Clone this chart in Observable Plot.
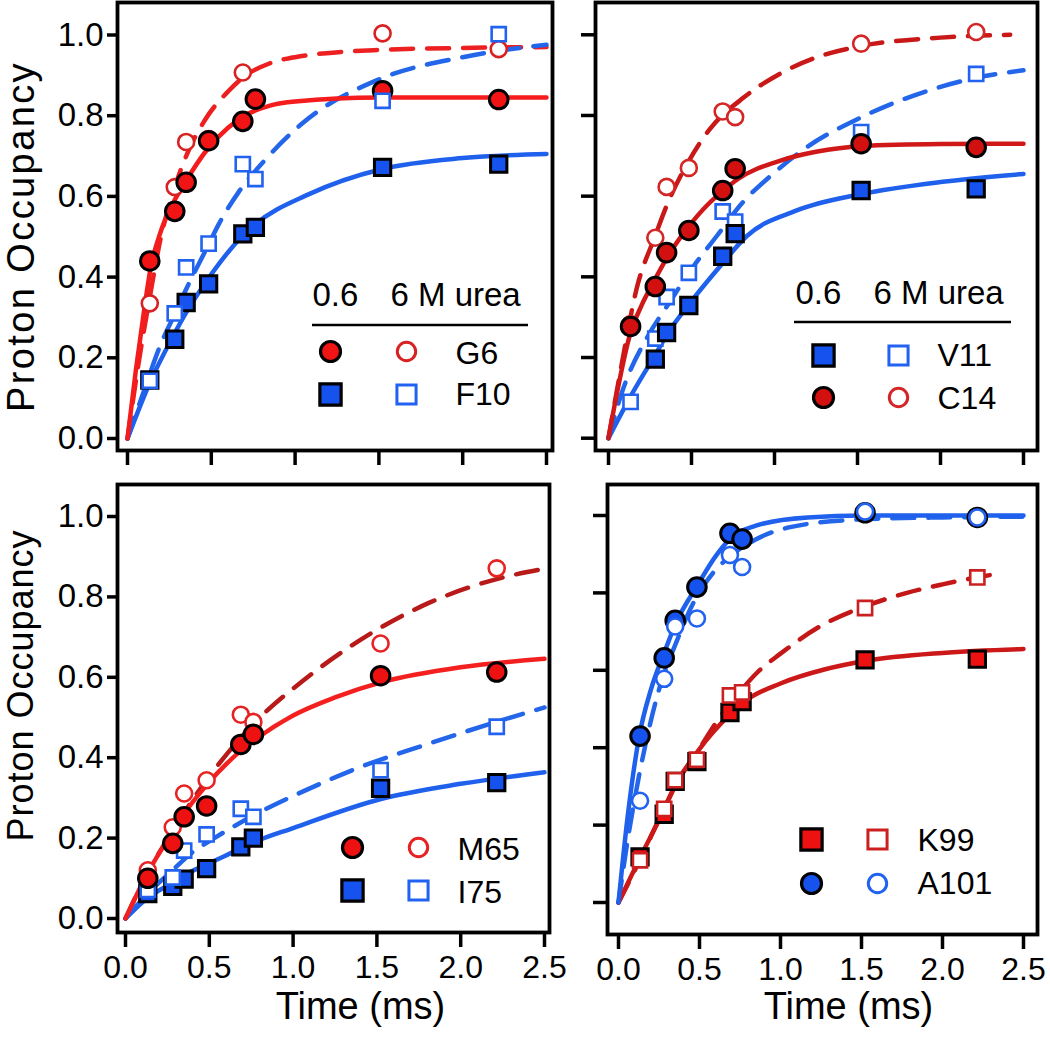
<!DOCTYPE html>
<html>
<head>
<meta charset="utf-8">
<script src="https://cdn.jsdelivr.net/npm/d3@7"></script>
<script src="https://cdn.jsdelivr.net/npm/@observablehq/plot@0.6"></script>
<style>
  html, body { margin: 0; padding: 0; background: #ffffff; }
  #chart { position: relative; width: 1050px; height: 1037px; background: #ffffff; }
  #chart svg { position: absolute; }
</style>
</head>
<body>
<div id="chart"></div>
<script>
// ---------------- DATA ----------------
const times = [0.133, 0.282, 0.35, 0.484, 0.688, 0.763, 1.522, 2.215];
const xTicks = [0, 0.5, 1.0, 1.5, 2.0, 2.5];
const yTicks = [0, 0.2, 0.4, 0.6, 0.8, 1.0];
const headerLabels = ["0.6", "6 M urea"];
const yTitle = "Proton Occupancy";
const xTitle = "Time (ms)";

// Panel A (top left): G6, F10
const labelsA = ["G6", "F10"];
const g6Low   = [0.44, 0.563, 0.635, 0.738, 0.786, 0.841, 0.862, 0.84];
const g6High  = [0.335, 0.623, 0.735, 0.742, 0.907, 0.842, 1.004, 0.965];
const f10Low  = [0.145, 0.246, 0.337, 0.383, 0.507, 0.523, 0.672, 0.68];
const f10High = [0.143, 0.31, 0.424, 0.483, 0.68, 0.643, 0.837, 1.002];
const fitG6Low   = [[0,0],[0.05,0.17],[0.1,0.32],[0.137,0.42],[0.2,0.515],[0.274,0.585],[0.344,0.635],[0.473,0.715],[0.6,0.77],[0.7,0.8],[0.85,0.825],[1.0,0.835],[1.5,0.845],[2.0,0.845],[2.5,0.845]];
const fitG6High  = [[0,0],[0.06,0.17],[0.137,0.36],[0.2,0.5],[0.28,0.62],[0.35,0.7],[0.463,0.79],[0.6,0.86],[0.69,0.895],[0.85,0.93],[1.0,0.945],[1.5,0.963],[2.0,0.968],[2.5,0.97]];
const fitF10Low  = [[0,0],[0.135,0.14],[0.274,0.255],[0.354,0.315],[0.463,0.385],[0.682,0.5],[0.76,0.53],[1.08,0.605],[1.52,0.668],[2.0,0.695],[2.5,0.705]];
const fitF10High = [[0,0],[0.1,0.12],[0.195,0.23],[0.284,0.31],[0.35,0.37],[0.483,0.48],[0.543,0.53],[0.662,0.61],[0.82,0.69],[1.04,0.78],[1.5,0.89],[2.0,0.945],[2.5,0.976]];

// Panel B (top right): V11, C14
const labelsB = ["V11", "C14"];
const v11Low  = [null, 0.196, 0.262, 0.329, 0.451, 0.507, 0.614, 0.618];
const v11High = [0.09, 0.247, 0.35, 0.41, 0.562, 0.537, 0.759, 0.903];
const c14Low  = [0.277, 0.376, 0.46, 0.515, 0.614, 0.668, 0.73, 0.721];
const c14High = [0.283, 0.497, 0.623, 0.67, 0.81, 0.796, 0.978, 1.007];
const fitC14Low  = [[0,0],[0.05,0.11],[0.128,0.255],[0.2,0.33],[0.269,0.385],[0.349,0.445],[0.474,0.52],[0.6,0.58],[0.681,0.61],[0.771,0.64],[1.05,0.69],[1.25,0.71],[1.52,0.724],[2.0,0.729],[2.5,0.73]];
const fitC14High = [[0,0],[0.078,0.18],[0.169,0.37],[0.28,0.5],[0.349,0.575],[0.488,0.69],[0.608,0.765],[0.816,0.845],[1.04,0.905],[1.26,0.945],[1.52,0.972],[2.0,0.993],[2.42,1.0]];
const fitV11Low  = [[0,0],[0.128,0.1],[0.279,0.205],[0.36,0.262],[0.5,0.34],[0.68,0.43],[0.83,0.5],[1.13,0.564],[1.52,0.605],[2.0,0.635],[2.5,0.655]];
const fitV11High = [[0,0],[0.078,0.11],[0.247,0.26],[0.349,0.325],[0.51,0.425],[0.65,0.5],[0.81,0.585],[0.99,0.655],[1.19,0.72],[1.52,0.795],[1.96,0.866],[2.21,0.893],[2.5,0.912]];

// Panel C (bottom left): M65, I75
const labelsC = ["M65", "I75"];
const m65Low  = [0.10, 0.187, 0.253, 0.28, 0.433, 0.458, 0.604, 0.613];
const m65High = [0.12, 0.227, 0.311, 0.344, 0.507, 0.489, 0.684, 0.871];
const i75Low  = [0.062, 0.08, 0.098, 0.124, 0.178, 0.2, 0.324, 0.338];
const i75High = [0.071, 0.102, 0.169, 0.209, 0.273, 0.253, 0.369, 0.477];
const fitM65Low  = [[0,0],[0.128,0.11],[0.288,0.22],[0.352,0.262],[0.48,0.33],[0.687,0.417],[0.764,0.442],[1.0,0.505],[1.25,0.55],[1.53,0.588],[2.0,0.625],[2.5,0.646]];
const fitM65High = [[0,0],[0.128,0.11],[0.284,0.22],[0.4,0.295],[0.53,0.37],[0.79,0.495],[1.07,0.595],[1.39,0.69],[1.81,0.785],[2.22,0.845],[2.5,0.87]];
const fitI75Low  = [[0,0],[0.128,0.05],[0.284,0.09],[0.352,0.108],[0.486,0.135],[0.693,0.175],[0.768,0.19],[1.0,0.225],[1.53,0.298],[2.0,0.335],[2.5,0.364]];
const fitI75High = [[0,0],[0.128,0.06],[0.28,0.12],[0.4,0.165],[0.53,0.2],[0.79,0.262],[1.07,0.318],[1.39,0.375],[1.81,0.435],[2.22,0.49],[2.5,0.525]];

// Panel D (bottom right): K99, A101
const labelsD = ["K99", "A101"];
const k99Low   = [0.118, 0.228, 0.313, 0.364, 0.491, 0.519, 0.627, 0.629];
const k99High  = [0.109, 0.242, 0.316, 0.369, 0.535, 0.543, 0.761, 0.84];
const a101Low  = [0.43, 0.632, 0.729, 0.815, 0.954, 0.939, 1.007, 0.995];
const a101High = [0.263, 0.578, 0.713, 0.734, 0.898, 0.867, 1.01, 0.995];
const fitA101Low  = [[0,0],[0.056,0.22],[0.128,0.43],[0.2,0.55],[0.282,0.645],[0.352,0.72],[0.488,0.82],[0.6,0.895],[0.691,0.94],[0.858,0.975],[1.167,0.995],[1.52,1.0],[2.5,1.0]];
const fitA101High = [[0,0],[0.06,0.17],[0.128,0.33],[0.25,0.55],[0.364,0.68],[0.457,0.77],[0.59,0.855],[0.69,0.895],[0.838,0.936],[1.06,0.97],[1.5,0.99],[2.0,0.995],[2.5,0.997]];
const fitK99Low   = [[0,0],[0.138,0.12],[0.272,0.232],[0.354,0.305],[0.488,0.39],[0.693,0.488],[0.776,0.519],[1.0,0.566],[1.27,0.602],[1.52,0.624],[2.0,0.645],[2.5,0.655]];
const fitK99High  = [[0,0],[0.138,0.115],[0.272,0.235],[0.354,0.305],[0.488,0.39],[0.611,0.47],[0.76,0.55],[0.858,0.595],[1.0,0.643],[1.25,0.715],[1.52,0.765],[1.78,0.8],[2.0,0.822],[2.21,0.84],[2.35,0.85]];

// ---------------- HELPERS ----------------
const FONT = "'Liberation Sans', Arial, Helvetica, sans-serif";
const pts = (vals) => times.map((t, i) => ({t, v: vals[i]})).filter(d => d.v != null);
const fitRows = (pairs) => pairs.map(([t, v]) => ({t, v}));

function dataDot(vals, s) {
  const filled = s.filled;
  const isSq = s.symbol === "square";
  return Plot.dot(pts(vals), {
    x: "t", y: "v", symbol: s.symbol,
    r: filled ? (isSq ? 9.2 : 9.3) : 8,
    fill: filled ? s.color : "white",
    stroke: filled ? "black" : s.color,
    strokeWidth: filled ? 3 : 2.6
  });
}
function fitLine(pairs, color, dashed) {
  return Plot.line(fitRows(pairs), {
    x: "t", y: "v", stroke: color, strokeWidth: 4.5,
    strokeDasharray: dashed ? "22,14" : undefined,
    curve: "monotone-x"
  });
}
function legendMarks(lg) {
  const marks = [];
  lg.rows.forEach((row, i) => {
    const my = lg.markerDy[i], ty = lg.textDy[i];
    const isSq = row.symbol === "square";
    marks.push(Plot.dot([row.label], {frameAnchor: "top-left", dx: lg.filledDx, dy: my, symbol: row.symbol,
      r: isSq ? 12 : 10, fill: row.fill, stroke: "black", strokeWidth: 3.2}));
    marks.push(Plot.dot([row.label], {frameAnchor: "top-left", dx: lg.openDx, dy: my, symbol: row.symbol,
      r: isSq ? 10.8 : 9.2, fill: "white", stroke: row.open, strokeWidth: 3}));
    marks.push(Plot.text([row.label], {frameAnchor: "top-left", dx: lg.textDx, dy: ty, text: d => d,
      textAnchor: "start", lineAnchor: "bottom", fontSize: 32, fill: "black"}));
  });
  if (lg.header) {
    marks.push(Plot.text([headerLabels[0]], {frameAnchor: "top-left", dx: lg.header.dx0, dy: lg.header.dy, text: d => d,
      textAnchor: "start", lineAnchor: "bottom", fontSize: 33, fill: "black"}));
    marks.push(Plot.text([headerLabels[1]], {frameAnchor: "top-left", dx: lg.header.dx1, dy: lg.header.dy, text: d => d,
      textAnchor: "start", lineAnchor: "bottom", fontSize: 33, fill: "black"}));
    const r = lg.header.rule;
    marks.push(() => d3.create("svg:line").attr("x1", r[0]).attr("x2", r[1]).attr("y1", r[2]).attr("y2", r[2])
      .attr("stroke", "black").attr("stroke-width", 2.6).node());
  }
  return marks;
}

function makePanel(cfg) {
  const [fl, ft, fr, fb] = cfg.frame;
  const marks = [];
  cfg.fits.forEach(f => marks.push(fitLine(f.data, f.color, f.dashed)));
  cfg.series.forEach(s => marks.push(dataDot(s.values, s)));
  marks.push(Plot.frame({stroke: "black", strokeWidth: 3.8}));
  marks.push(Plot.axisY({ticks: yTicks, anchor: "left", tickSize: cfg.yTickSize, tickPadding: 4,
    tickFormat: cfg.yLabels ? d3.format(".1f") : () => "", fontSize: 33, strokeWidth: 3.5, label: null}));
  marks.push(Plot.axisX({ticks: xTicks, anchor: "bottom", tickSize: 15, tickPadding: 8,
    tickFormat: cfg.xLabels ? d3.format(".1f") : () => "", fontSize: 32, strokeWidth: 3.5, label: null}));
  if (cfg.yTitle) marks.push(Plot.text([yTitle], {frameAnchor: "left", rotate: -90, dx: cfg.yTitle.dx, dy: cfg.yTitle.dy,
    textAnchor: "middle", lineAnchor: "middle", fontSize: cfg.yTitle.size, fill: "black"}));
  if (cfg.xTitle) marks.push(Plot.text([xTitle], {frameAnchor: "bottom", dx: cfg.xTitle.dx, dy: cfg.xTitle.dy,
    textAnchor: "middle", lineAnchor: "bottom", fontSize: 38, fill: "black"}));
  marks.push(...legendMarks(cfg.legend));

  const svg = Plot.plot({
    width: cfg.width, height: cfg.height,
    marginLeft: fl, marginTop: ft, marginRight: cfg.width - fr, marginBottom: cfg.height - fb,
    x: {domain: [0, 2.5], range: cfg.xRange},
    y: {domain: [0, 1], range: cfg.yRange},
    style: {fontFamily: FONT, fontSize: "33px", background: "transparent", color: "black", overflow: "visible"},
    marks
  });
  svg.style.left = cfg.left + "px";
  svg.style.top = cfg.top + "px";
  svg.querySelectorAll("text").forEach(t => {
    if (t.textContent === yTitle && cfg.yTitle) t.style.letterSpacing = cfg.yTitle.spacing + "px";
  });
  document.getElementById("chart").append(svg);
}

// ---------------- PANELS ----------------
const R1 = {solid: "#f41c1c", dash: "#ec2020", fill: "#f01414", open: "#d82222"};
const R2 = {solid: "#d01818", dash: "#c81818", fill: "#d21010", open: "#d42626"};
const R3 = {solid: "#f42020", dash: "#b81a1a", fill: "#ee1111", open: "#e62222"};
const R4 = {solid: "#cc1818", dash: "#c41818", fill: "#ee1111", open: "#cc2020"};
const B  = {solid: "#1f60ec", dash: "#2466ea", fill: "#1552ee", open: "#2262f0"};

makePanel({
  left: 0, top: 0, width: 570, height: 470,
  frame: [117, 2, 552, 450], xRange: [127, 546], yRange: [438, 34.5],
  yLabels: true, xLabels: false, yTickSize: 10,
  yTitle: {dx: -96, dy: 10, size: 38, spacing: 2.4},
  fits: [
    {data: fitG6High, color: R1.dash, dashed: true},
    {data: fitF10High, color: B.dash, dashed: true},
    {data: fitF10Low, color: B.solid, dashed: false},
    {data: fitG6Low, color: R1.solid, dashed: false}
  ],
  series: [
    {values: g6High, symbol: "circle", filled: false, color: R1.open},
    {values: g6Low, symbol: "circle", filled: true, color: R1.fill},
    {values: f10Low, symbol: "square", filled: true, color: B.fill},
    {values: f10High, symbol: "square", filled: false, color: B.open}
  ],
  legend: {
    header: {dx0: 195, dx1: 273, dy: 303, rule: [312, 528, 325]},
    filledDx: 213, openDx: 289, textDx: 338,
    markerDy: [349, 392], textDy: [361, 402],
    rows: [
      {label: labelsA[0], symbol: "circle", fill: R1.fill, open: R1.open},
      {label: labelsA[1], symbol: "square", fill: B.fill, open: B.open}
    ]
  }
});

makePanel({
  left: 570, top: 0, width: 480, height: 470,
  frame: [25, 2, 467, 450], xRange: [38, 453], yRange: [437.7, 34.3],
  yLabels: false, xLabels: false, yTickSize: 14,
  fits: [
    {data: fitC14High, color: R2.dash, dashed: true},
    {data: fitV11High, color: B.dash, dashed: true},
    {data: fitV11Low, color: B.solid, dashed: false},
    {data: fitC14Low, color: R2.solid, dashed: false}
  ],
  series: [
    {values: v11High, symbol: "square", filled: false, color: B.open},
    {values: v11Low, symbol: "square", filled: true, color: B.fill},
    {values: c14High, symbol: "circle", filled: false, color: R2.open},
    {values: c14Low, symbol: "circle", filled: true, color: R2.fill}
  ],
  legend: {
    header: {dx0: 200, dx1: 278, dy: 301, rule: [224, 441, 322]},
    filledDx: 228, openDx: 303, textDx: 342,
    markerDy: [353, 395], textDy: [363, 406],
    rows: [
      {label: labelsB[0], symbol: "square", fill: B.fill, open: B.open},
      {label: labelsB[1], symbol: "circle", fill: R2.fill, open: R2.open}
    ]
  }
});

makePanel({
  left: 0, top: 470, width: 570, height: 567,
  frame: [117, 14, 549, 462], xRange: [125, 544], yRange: [448, 46],
  yLabels: true, xLabels: true, yTickSize: 10,
  yTitle: {dx: -96, dy: -23, size: 36, spacing: 1},
  xTitle: {dx: 27, dy: 86},
  fits: [
    {data: fitM65High, color: R3.dash, dashed: true},
    {data: fitI75High, color: B.dash, dashed: true},
    {data: fitI75Low, color: B.solid, dashed: false},
    {data: fitM65Low, color: R3.solid, dashed: false}
  ],
  series: [
    {values: i75Low, symbol: "square", filled: true, color: B.fill},
    {values: i75High, symbol: "square", filled: false, color: B.open},
    {values: m65High, symbol: "circle", filled: false, color: R3.open},
    {values: m65Low, symbol: "circle", filled: true, color: R3.fill}
  ],
  legend: {
    filledDx: 235, openDx: 301, textDx: 340,
    markerDy: [363, 406], textDy: [375, 418],
    rows: [
      {label: labelsC[0], symbol: "circle", fill: R3.fill, open: R3.open},
      {label: labelsC[1], symbol: "square", fill: B.fill, open: B.open}
    ]
  }
});

makePanel({
  left: 570, top: 470, width: 480, height: 567,
  frame: [37, 14, 467, 464], xRange: [48, 453], yRange: [432, 45],
  yLabels: false, xLabels: true, yTickSize: 14,
  xTitle: {dx: 26, dy: 84},
  fits: [
    {data: fitK99High, color: R4.dash, dashed: true},
    {data: fitA101High, color: B.dash, dashed: true},
    {data: fitK99Low, color: R4.solid, dashed: false},
    {data: fitA101Low, color: B.solid, dashed: false}
  ],
  series: [
    {values: a101Low, symbol: "circle", filled: true, color: B.fill},
    {values: a101High, symbol: "circle", filled: false, color: B.open},
    {values: k99Low, symbol: "square", filled: true, color: R4.fill},
    {values: k99High, symbol: "square", filled: false, color: R4.open}
  ],
  legend: {
    filledDx: 204, openDx: 270, textDx: 310,
    markerDy: [355, 399], textDy: [366, 409],
    rows: [
      {label: labelsD[0], symbol: "square", fill: R4.fill, open: R4.open},
      {label: labelsD[1], symbol: "circle", fill: B.fill, open: B.open}
    ]
  }
});
</script>
</body>
</html>
